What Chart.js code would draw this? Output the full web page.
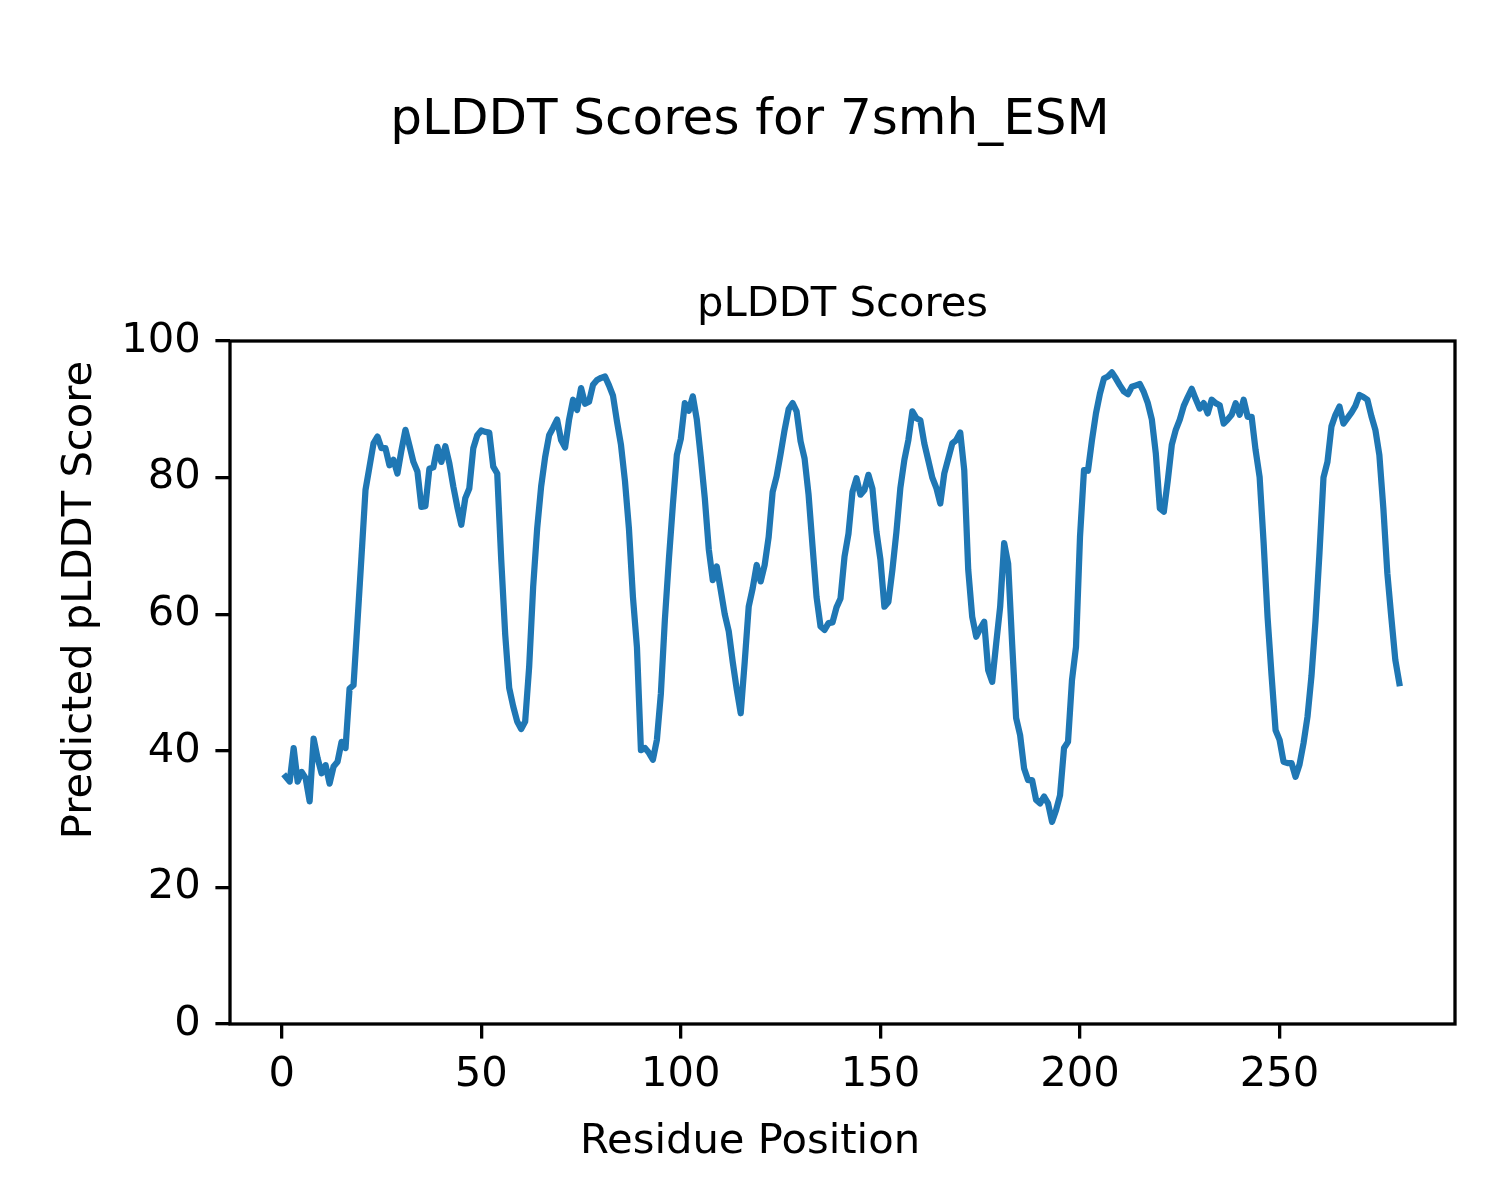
<!DOCTYPE html>
<html>
<head>
<meta charset="utf-8">
<title>pLDDT Scores for 7smh_ESM</title>
<script src="https://cdn.jsdelivr.net/npm/chart.js@4.4.1/dist/chart.umd.min.js"></script>
<style>
  html, body { margin: 0; padding: 0; background: #fff; }
  canvas { display: block; }
</style>
</head>
<body>
<canvas id="plddt-chart" width="1500" height="1200"></canvas>
<script>
// pLDDT per residue, residues 1..280
const plddtScores = [
  36.2, 35.5, 40.4, 35.5, 36.9, 36.0, 32.6, 41.8, 38.9, 36.7,
  37.9, 35.2, 37.7, 38.4, 41.3, 40.4, 49.1, 49.6, 59.0, 68.5,
  78.2, 81.6, 85.0, 86.0, 84.3, 84.3, 81.8, 82.6, 80.6, 84.0,
  87.0, 84.7, 82.3, 80.9, 75.7, 75.8, 81.3, 81.5, 84.5, 82.3,
  84.6, 82.1, 78.7, 75.7, 73.1, 77.0, 78.4, 84.3, 86.2, 86.9,
  86.7, 86.6, 81.6, 80.6, 68.0, 57.0, 49.2, 46.5, 44.3, 43.2,
  44.3, 52.3, 64.0, 72.5, 78.7, 83.0, 86.2, 87.3, 88.5, 85.5,
  84.4, 88.5, 91.4, 89.9, 93.1, 90.8, 91.1, 93.6, 94.3, 94.6,
  94.8, 93.5, 92.0, 88.2, 84.8, 79.5, 72.5, 62.5, 55.2, 40.1,
  40.4, 39.7, 38.7, 41.6, 48.4, 59.2, 68.0, 76.0, 83.3, 85.7,
  90.9, 89.8, 91.9, 88.5, 83.0, 77.0, 69.5, 65.0, 67.0, 63.5,
  60.0, 57.5, 53.0, 49.0, 45.5, 53.0, 61.1, 63.8, 67.2, 64.8,
  67.2, 71.3, 77.9, 80.2, 83.5, 87.0, 90.0, 90.9, 89.7, 85.3,
  82.8, 77.5, 69.9, 62.5, 58.2, 57.7, 58.7, 58.8, 61.0, 62.3,
  68.4, 71.8, 77.9, 79.9, 77.5, 78.2, 80.4, 78.4, 72.1, 68.0,
  61.1, 61.8, 66.5, 72.0, 78.5, 82.6, 85.5, 89.7, 88.7, 88.4,
  85.0, 82.5, 80.0, 78.5, 76.2, 80.6, 82.8, 85.0, 85.5, 86.6,
  81.1, 66.5, 59.6, 56.7, 57.9, 58.9, 51.8, 50.1, 55.7, 61.1,
  70.4, 67.4, 55.7, 44.8, 42.3, 37.4, 35.7, 35.7, 32.8, 32.3,
  33.3, 32.3, 29.6, 31.3, 33.5, 40.4, 41.3, 50.4, 55.2, 71.3,
  81.1, 81.0, 85.5, 89.4, 92.3, 94.5, 94.8, 95.4, 94.5, 93.5,
  92.6, 92.2, 93.3, 93.5, 93.7, 92.5, 90.9, 88.5, 83.5, 75.5,
  75.0, 79.6, 84.8, 87.0, 88.5, 90.5, 91.8, 93.0, 91.5, 90.1,
  90.9, 89.4, 91.4, 90.9, 90.6, 87.9, 88.5, 89.2, 90.9, 89.2,
  91.4, 88.9, 88.9, 84.0, 80.1, 70.5, 59.5, 51.0, 43.0, 41.6,
  38.4, 38.2, 38.2, 36.2, 38.0, 41.1, 45.0, 51.0, 59.0, 69.0,
  80.0, 82.3, 87.5, 89.2, 90.4, 87.9, 88.7, 89.5, 90.5, 92.1,
  91.8, 91.4, 89.0, 87.0, 83.3, 75.5, 66.0, 59.5, 53.3, 49.9,
];
const firstResidue = 1;
const xTicks = [0, 50, 100, 150, 200, 250];
const yTicks = [0, 20, 40, 60, 80, 100];

const figTitle = 'pLDDT Scores for 7smh_ESM';
const axesTitle = 'pLDDT Scores';
const xLabel = 'Residue Position';
const yLabel = 'Predicted pLDDT Score';

const FONT = "'DejaVu Sans', 'Liberation Sans', sans-serif";
const LINE_BLUE = '#1f77b4';

// matplotlib-style 5% margins on x
const lastResidue = firstResidue + plddtScores.length - 1;
const xPad = (lastResidue - firstResidue) * 0.05;

const points = plddtScores.map((v, i) => ({ x: firstResidue + i, y: v }));

const textPlugin = {
  id: 'figureText',
  afterDatasetsDraw(chart) {
    const { ctx, chartArea } = chart;
    ctx.save();
    ctx.strokeStyle = '#000';
    ctx.lineWidth = 3.3;
    ctx.strokeRect(chartArea.left, chartArea.top,
      chartArea.right - chartArea.left, chartArea.bottom - chartArea.top);
    ctx.restore();
  },
  afterDraw(chart) {
    const { ctx, chartArea } = chart;
    ctx.save();
    ctx.fillStyle = '#000';
    ctx.textBaseline = 'alphabetic';
    ctx.textAlign = 'center';

    ctx.font = `50px ${FONT}`;
    ctx.fillText(figTitle, 750, 134);

    ctx.font = `41.7px ${FONT}`;
    ctx.fillText(axesTitle, (chartArea.left + chartArea.right) / 2, 316);

    ctx.fillText(xLabel, 750, 1153);

    ctx.translate(91, 600);
    ctx.rotate(-Math.PI / 2);
    ctx.fillText(yLabel, 0, 0);
    ctx.restore();
  },
};

const tickFont = { family: FONT, size: 41.7 };

new Chart(document.getElementById('plddt-chart'), {
  type: 'line',
  data: {
    datasets: [{
      label: 'pLDDT',
      data: points,
      borderColor: LINE_BLUE,
      borderWidth: 6.25,
      borderJoinStyle: 'round',
      borderCapStyle: 'square',
      pointRadius: 0,
      tension: 0,
      fill: false,
    }],
  },
  options: {
    responsive: false,
    animation: false,
    devicePixelRatio: 1,
    layout: { padding: { left: 0, top: 341, right: 45, bottom: 0 } },
    plugins: {
      legend: { display: false },
      title: { display: false },
      tooltip: { enabled: false },
    },
    scales: {
      x: {
        type: 'linear',
        min: firstResidue - xPad,
        max: lastResidue + xPad,
        afterBuildTicks: (scale) => { scale.ticks = xTicks.map((v) => ({ value: v })); },
        afterFit: (scale) => { scale.height = 176; },
        grid: {
          drawOnChartArea: false,
          drawTicks: true,
          tickLength: 14.6,
          lineWidth: 3.3,
          color: '#000',
        },
        border: { display: false },
        ticks: { font: tickFont, color: '#000', padding: 12, maxRotation: 0, autoSkip: false },
      },
      y: {
        type: 'linear',
        min: 0,
        max: 100,
        afterBuildTicks: (scale) => { scale.ticks = yTicks.map((v) => ({ value: v })); },
        afterFit: (scale) => { scale.width = 230; },
        grid: {
          drawOnChartArea: false,
          drawTicks: true,
          tickLength: 14.6,
          lineWidth: 3.3,
          color: '#000',
        },
        border: { display: false },
        ticks: { font: tickFont, color: '#000', padding: 14.6, autoSkip: false },
      },
    },
  },
  plugins: [textPlugin],
});
</script>
</body>
</html>
